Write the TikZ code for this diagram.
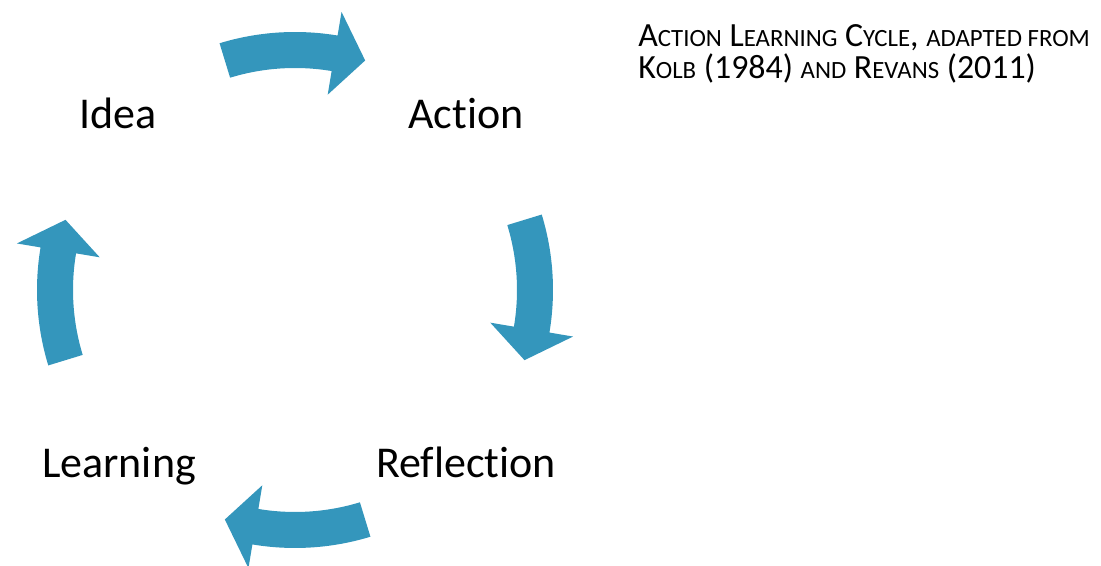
\documentclass[tikz,border=0pt]{standalone}
\usepackage{fontspec}
\setmainfont{Carlito}[Ligatures=NoCommon]
\usetikzlibrary{positioning}
\definecolor{cycleblue}{RGB}{52,150,188}
\tikzset{
	stage/.style = {anchor=base, inner sep=0pt, font=\fontsize{33}{40}\selectfont},
	caption/.style = {anchor=base west, inner sep=0pt, font=\fontsize{25.4}{24}\selectfont},
	cyclearrow/.style = {fill=cycleblue, draw=none},
}
\newcommand{\smc}[1]{{\fontsize{18.6}{24}\selectfont #1}}

\begin{document}
\begin{tikzpicture}[x=0.75pt, y=0.75pt]
	\useasboundingbox (0,0) rectangle (1101,566);
	\clip (0,0) rectangle (1101,566);
	\foreach \a in {90,0,-90,180} {
		\fill[cyclearrow, shift={(295,276)}] (\a+17:258) arc[start angle=\a+17, end angle=\a-9.5, radius=258]
			-- (\a-9.5:282) -- (\a-17:240) -- (\a-9.5:198) -- (\a-9.5:222)
			arc[start angle=\a-9.5, end angle=\a+17, radius=222] -- cycle;
	}
	\node[stage] (idea) at (118,437) {Idea};
	\node[stage] (action) at (466,437) {Action};
	\node[stage] (reflection) at (466,88) {Reflection};
	\node[stage] (learning) at (119,88) {Learning};
	\node[caption] (title) at (638,519) {A\smc{CTION} L\smc{EARNING} C\smc{YCLE}, \smc{ADAPTED FROM}};
	\node[caption] (source) at (638,487) {K\smc{OLB} (1984) \smc{AND} R\smc{EVANS} (2011)};
\end{tikzpicture}
\end{document}
